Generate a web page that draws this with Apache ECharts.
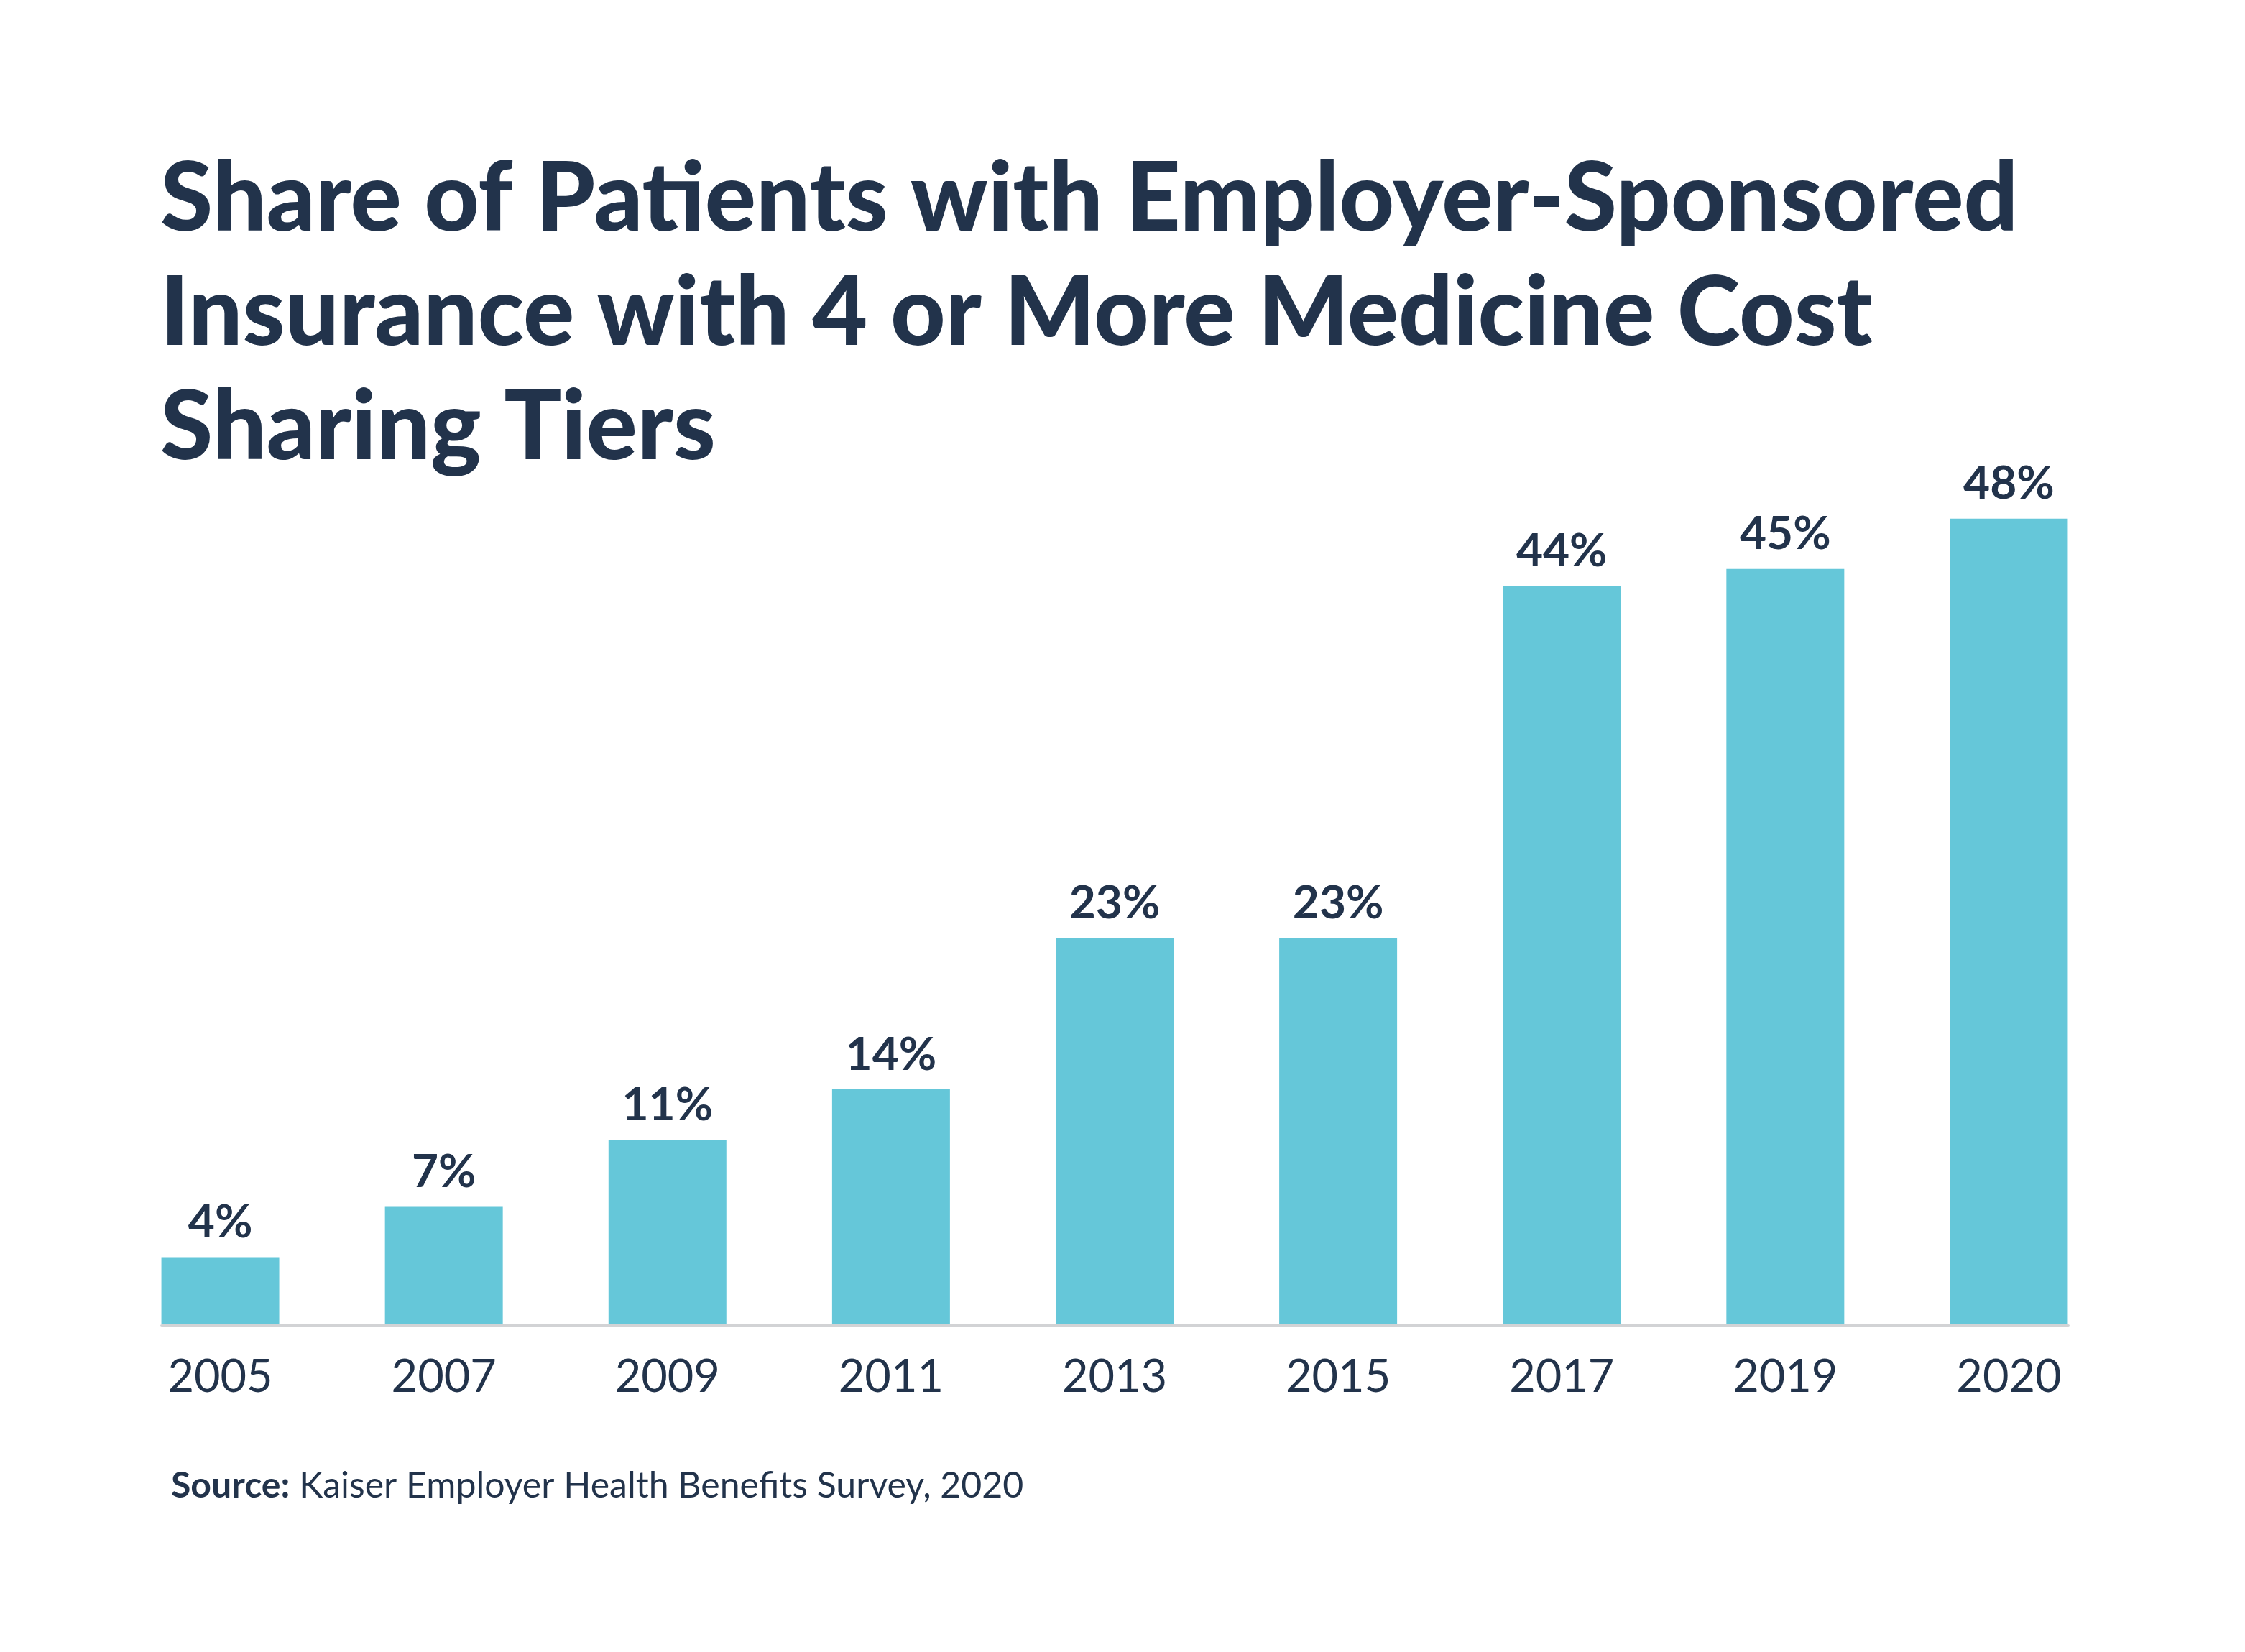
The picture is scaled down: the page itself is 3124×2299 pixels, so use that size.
<!DOCTYPE html>
<html>
<head>
<meta charset="utf-8">
<title>Share of Patients with 4+ Cost Sharing Tiers</title>
<script src="https://cdn.jsdelivr.net/npm/echarts@6/dist/echarts.min.js"></script>
<style>
  html, body { margin: 0; padding: 0; background: #fff; }
  #main { width: 3124px; height: 2299px; }
</style>
</head>
<body>
<div id="main"></div>
<script>
// data
var years = ['2005', '2007', '2009', '2011', '2013', '2015', '2017', '2019', '2020'];
var shares = [4, 7, 11, 14, 23, 23, 44, 45, 48];

var navy = '#22334b';
var teal = '#65c7d9';
var font = 'Lato';

var myChart = echarts.init(document.getElementById('main'));

myChart.setOption({
    backgroundColor: '#ffffff',
    animation: false,
    title: [
        {
            text: 'Share of Patients with Employer-Sponsored\nInsurance with 4 or More Medicine Cost\nSharing Tiers',
            left: 218,
            top: 194,
            textStyle: {
                color: navy,
                fontFamily: font,
                fontWeight: 900,
                fontSize: 133,
                lineHeight: 159
            }
        },
        {
            text: '{b|Source:} Kaiser Employer Health Benefits Survey, 2020',
            left: 233,
            top: 2038,
            textStyle: {
                color: navy,
                fontFamily: font,
                fontWeight: 'normal',
                fontSize: 50,
                rich: {
                    b: { fontFamily: font, fontWeight: 'bold', fontSize: 50, color: navy }
                }
            }
        }
    ],
    grid: [
        // main plot
        { left: 151, right: 173, top: 675, bottom: 456 },
        // only carries the base line, which spans the bars
        { left: 225, right: 246, top: 675, bottom: 454 }
    ],
    xAxis: [
        {
            type: 'category',
            gridIndex: 0,
            data: years,
            axisLine: { show: false },
            axisTick: { show: false },
            axisLabel: {
                color: navy,
                fontFamily: font,
                fontSize: 63,
                margin: 42
            }
        },
        {
            type: 'category',
            gridIndex: 1,
            data: years,
            axisLine: { show: true, lineStyle: { color: '#d2d3d5', width: 4 } },
            axisTick: { show: false },
            axisLabel: { show: false }
        }
    ],
    yAxis: [
        {
            type: 'value',
            gridIndex: 0,
            min: 0,
            max: 50,
            show: false
        },
        {
            type: 'value',
            gridIndex: 1,
            min: 0,
            max: 50,
            show: false
        }
    ],
    series: [
        {
            type: 'bar',
            data: shares,
            barWidth: 164,
            itemStyle: { color: teal },
            label: {
                show: true,
                position: 'top',
                distance: 16,
                formatter: '{c}%',
                color: navy,
                fontFamily: font,
                fontWeight: 'bold',
                fontSize: 64
            }
        }
    ]
});
</script>
</body>
</html>
